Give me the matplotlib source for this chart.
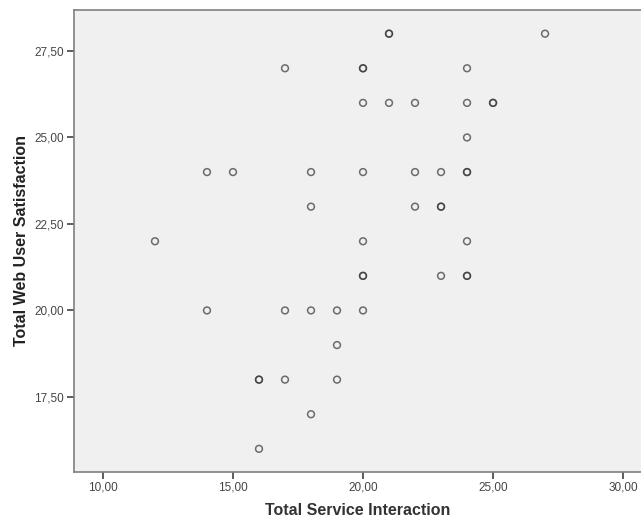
import matplotlib
matplotlib.use("Agg")
import matplotlib.pyplot as plt
from matplotlib.ticker import FuncFormatter

# Total Service Interaction (x) / Total Web User Satisfaction (y)
service = [27, 21, 21,
           17, 20, 20, 24,
           20, 21, 22, 24, 25, 25,
           24,
           14, 15, 18, 20, 22, 23, 24, 24,
           18, 22, 23, 23,
           12, 20, 24,
           20, 20, 23, 24, 24,
           14, 17, 18, 19, 20,
           19,
           16, 16, 17, 19,
           18,
           16]
satisfaction = [28, 28, 28,
                27, 27, 27, 27,
                26, 26, 26, 26, 26, 26,
                25,
                24, 24, 24, 24, 24, 24, 24, 24,
                23, 23, 23, 23,
                22, 22, 22,
                21, 21, 21, 21, 21,
                20, 20, 20, 20, 20,
                19,
                18, 18, 18, 18,
                17,
                16]

x_ticks = [10, 15, 20, 25, 30]
y_ticks = [17.5, 20.0, 22.5, 25.0, 27.5]

plt.rcParams["font.family"] = ["Liberation Sans", "DejaVu Sans"]

fig = plt.figure(figsize=(6.41, 5.20), dpi=100)
ax = fig.add_axes([0.1154, 0.0923, 0.8846, 0.8885])
ax.set_facecolor("#f0f0f0")

ax.scatter(service, satisfaction, s=24, facecolors="none",
           edgecolors=(0.2, 0.2, 0.2, 0.7), linewidths=1.1, zorder=3)

ax.set_xlim(8.885, 30.69)
ax.set_ylim(15.33, 28.685)
ax.set_xticks(x_ticks)
ax.set_yticks(y_ticks)
comma = FuncFormatter(lambda v, p: "{:.2f}".format(v).replace(".", ","))
ax.xaxis.set_major_formatter(comma)
ax.yaxis.set_major_formatter(comma)

for side in ("left", "bottom", "top"):
    ax.spines[side].set_color("#808080")
    ax.spines[side].set_linewidth(1.2)
ax.spines["right"].set_visible(False)

ax.tick_params(length=5, width=1.3, color="#505050", labelsize=8.5,
               labelcolor="#454545", pad=2)

ax.set_xlabel("Total Service Interaction", fontsize=11.5, fontweight="bold",
              color="#333333", labelpad=7)
ax.set_ylabel("Total Web User Satisfaction", fontsize=11.5, fontweight="bold",
              color="#222222", labelpad=4)

fig.savefig("out.png", dpi=100)
